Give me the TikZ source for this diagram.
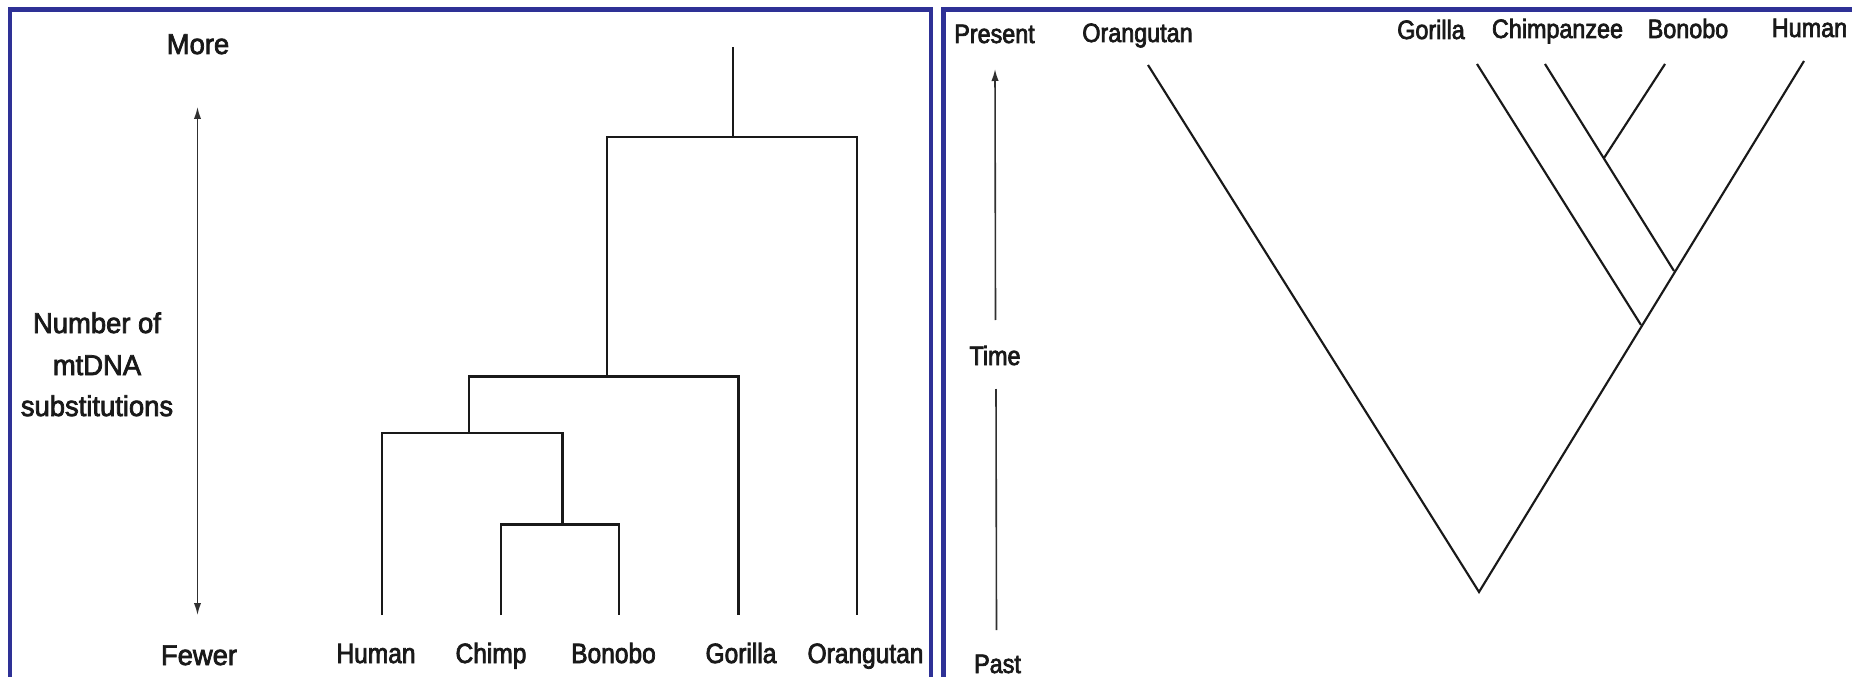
\documentclass[tikz,border=0pt]{standalone}
\usepackage{fontspec}
\setmainfont{Liberation Sans}[FakeStretch=0.88,FakeBold=2.6]
\newfontfamily\axfont{Liberation Sans}[FakeStretch=0.96,FakeBold=2.6]
\usetikzlibrary{arrows.meta}
\definecolor{framec}{RGB}{46,49,150}
\definecolor{inkc}{RGB}{25,25,25}
\tikzset{
  frameline/.style={draw=framec,line width=3.6pt},
  treeline/.style={draw=inkc,line width=1.8pt,line cap=butt},
  axisline/.style={draw=inkc!90,line width=1.2pt},
  axtip/.style={-{Latex[length=9pt,width=5.5pt]}},
  lbl/.style={anchor=base,inner sep=0pt,text=inkc,font=\fontsize{20.9}{25}\selectfont},
  rlbl/.style={anchor=base,inner sep=0pt,text=inkc,font=\fontsize{19.9}{24}\selectfont},
  axlbl/.style={anchor=base,inner sep=0pt,text=inkc,font=\axfont\fontsize{21.4}{26}\selectfont},
}
\begin{document}
\begin{tikzpicture}[x=0.75pt,y=-0.75pt]
\useasboundingbox (0,0) rectangle (1852,677);
\clip (0,0) rectangle (1852,677);
\fill[white] (0,0) rectangle (1852,677);

% frames
\draw[frameline] (10,700) -- (10,9.5) -- (931,9.5) -- (931,700);
\draw[frameline] (943.5,700) -- (943.5,9.5) -- (1870,9.5);

% ---------- left panel ----------
\node[axlbl] (more) at (198,54) {More};
\node[axlbl] (fewer) at (199,665) {Fewer};
\node[axlbl] (num1) at (97,333) {Number of};
\node[axlbl] (num2) at (97,375) {mtDNA};
\node[axlbl] (num3) at (97,416) {substitutions};
\coordinate (aTop) at (197.5,107);
\coordinate (aBot) at (197.5,615);
\draw[axisline,{Latex[length=9pt,width=5.5pt]}-{Latex[length=9pt,width=5.5pt]}] (aTop) -- (aBot);

\coordinate (hu) at (382,615);
\coordinate (chp) at (501,615);
\coordinate (bo) at (619,615);
\coordinate (go) at (738.5,615);
\coordinate (orl) at (857,615);
\coordinate (cb) at (562.5,524.5);
\coordinate (hcb) at (469,433);
\coordinate (hcbg) at (607,376.5);
\coordinate (all) at (733,137);
\coordinate (root) at (733,47);

\draw[treeline] (chp) |- (cb) -| (bo);
\draw[treeline] (hu) |- (hcb) -| (cb);
\draw[treeline] (hcb) |- (hcbg) -| (go);
\draw[treeline] (hcbg) |- (all) -| (orl);
\draw[treeline] (all) -- (root);

\node[lbl] (lHu) at (376,663) {Human};
\node[lbl] (lCh) at (491,663) {Chimp};
\node[lbl] (lBo) at (613.5,663) {Bonobo};
\node[lbl] (lGo) at (741,663) {Gorilla};
\node[lbl] (lOr) at (865.5,663) {Orangutan};

% ---------- right panel ----------
\node[rlbl] (present) at (994.5,43) {Present};
\node[rlbl] (time) at (995,365) {Time};
\node[rlbl] (past) at (997.5,673) {Past};
\coordinate (tTip) at (995,69);
\coordinate (tUp) at (995.5,320);
\coordinate (tLo1) at (996,389);
\coordinate (tLo2) at (996.5,630);
\draw[axisline,axtip] (tUp) -- (tTip);
\draw[axisline] (tLo1) -- (tLo2);

\node[rlbl] (rOrL) at (1137.5,42) {Orangutan};
\node[rlbl] (rGoL) at (1431,39) {Gorilla};
\node[rlbl] (rChL) at (1557.5,38) {Chimpanzee};
\node[rlbl] (rBoL) at (1688,38) {Bonobo};
\node[rlbl] (rHuL) at (1809.5,37) {Human};

\coordinate (rOr) at (1148,65);
\coordinate (rGo) at (1477,64);
\coordinate (rCh) at (1545,64);
\coordinate (rBo) at (1665,64);
\coordinate (rHu) at (1804,61);
\coordinate (rCB) at (1604,158);
\coordinate (rCBH) at (1674,271);
\coordinate (rG) at (1641,325);
\coordinate (rRoot) at (1479,592);

\draw[treeline,line width=1.6pt,line join=miter] (rOr) -- (rRoot) -- (rHu);
\draw[treeline,line width=1.6pt] (rGo) -- (rG);
\draw[treeline,line width=1.6pt] (rCh) -- (rCBH);
\draw[treeline,line width=1.6pt] (rBo) -- (rCB);
\end{tikzpicture}
\end{document}
